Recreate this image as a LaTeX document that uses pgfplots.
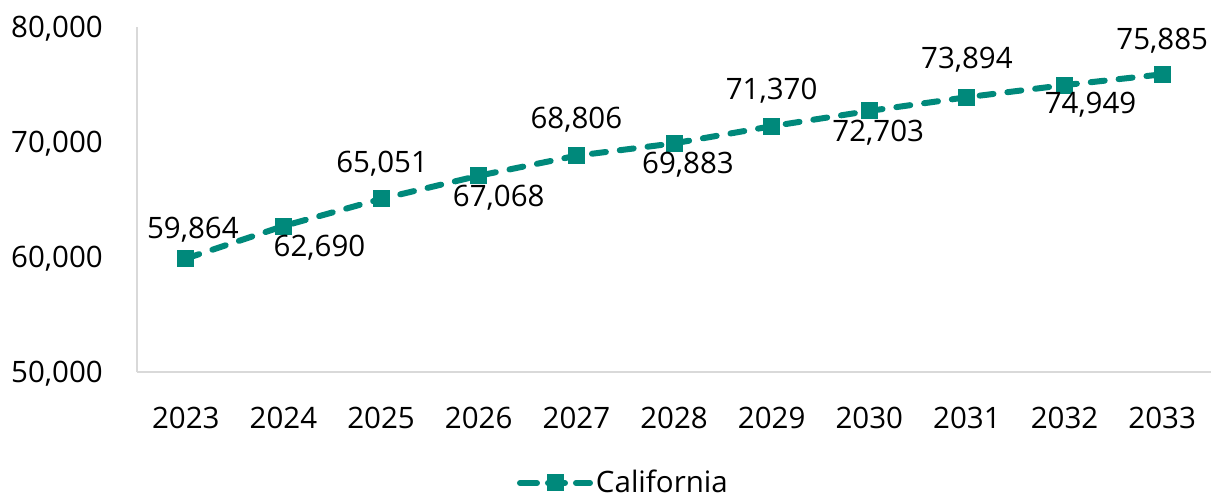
\documentclass[border=0pt]{standalone}
\usepackage{fontspec}
\setmainfont{Open Sans}
\usepackage{pgfplots}
\usepackage{pgfplotstable}
\pgfplotsset{compat=1.18}
\definecolor{teal1}{RGB}{0,137,123}
\definecolor{axgray}{RGB}{217,217,217}
\newcommand{\bigf}{\fontsize{29.5pt}{35pt}\selectfont}

\pgfplotstableread{
x y dx dy
0 59864 7 31
1 62690 36 -20
2 65051 1 37
3 67068 20 -20
4 68806 0 37.5
5 69883 14 -19.5
6 71370 0 37
7 72703 9 -19.5
8 73894 0 39
9 74949 26 -18
10 75885 0 36
}\datatable

\begin{document}
\bigf
\begin{tikzpicture}
\begin{axis}[
  scale only axis, width=1074pt, height=345pt,
  xmin=-0.5, xmax=10.5, ymin=50000, ymax=80000,
  axis x line*=bottom, axis y line*=left,
  axis line style={axgray, line width=1.5pt, -},
  xtick={0,1,2,3,4,5,6,7,8,9,10},
  xticklabels={2023,2024,2025,2026,2027,2028,2029,2030,2031,2032,2033},
  ytick={50000,60000,70000,80000},
  major tick length=0pt,
  scaled y ticks=false,
  /pgf/number format/.cd, fixed, 1000 sep={,}, assume math mode=true, /pgfplots/.cd,
  tick label style={font=\bigf, inner sep=0pt, text depth=0pt},
  yticklabel style={anchor=east, xshift=-34pt},
  xticklabel style={anchor=north, yshift=-35pt},
  legend style={draw=none, fill=none, inner sep=0pt, outer sep=0pt,
    at={(axis description cs:0.3538,-0.3217)}, anchor=west,
    font=\bigf, nodes={inner sep=0pt}},
  legend image code/.code={
    \path (-3pt,0pt) -- (70pt,0pt);
    \draw[#1, mark repeat=2, mark phase=2] plot coordinates {(0pt,0pt) (33pt,0pt) (66pt,0pt)};
  },
  clip=false,
]
\coordinate (O) at (rel axis cs:0,0);
\addplot[
  teal1, line width=6pt, dash pattern=on 14pt off 14pt, line cap=round,
  mark=square*, mark size=8pt, mark options={solid, fill=teal1, draw=teal1, line width=0pt},
  point meta=explicit,
  visualization depends on={\thisrow{dx} \as \dx},
  visualization depends on={\thisrow{dy} \as \dy},
  nodes near coords={\pgfmathprintnumber[fixed,precision=0,1000 sep={,},assume math mode=true]{\pgfplotspointmeta}},
  nodes near coords style={font=\bigf, text=black, anchor=center, inner sep=0pt, text depth=0pt, xshift=\dx pt, yshift=\dy pt},
] table[x=x, y=y, meta=y] {\datatable};
\addlegendentry{California}
\end{axis}
\pgfresetboundingbox
\path[use as bounding box] (O) ++(-137pt,-127pt) rectangle ++(1217pt,499pt);
\end{tikzpicture}
\end{document}
